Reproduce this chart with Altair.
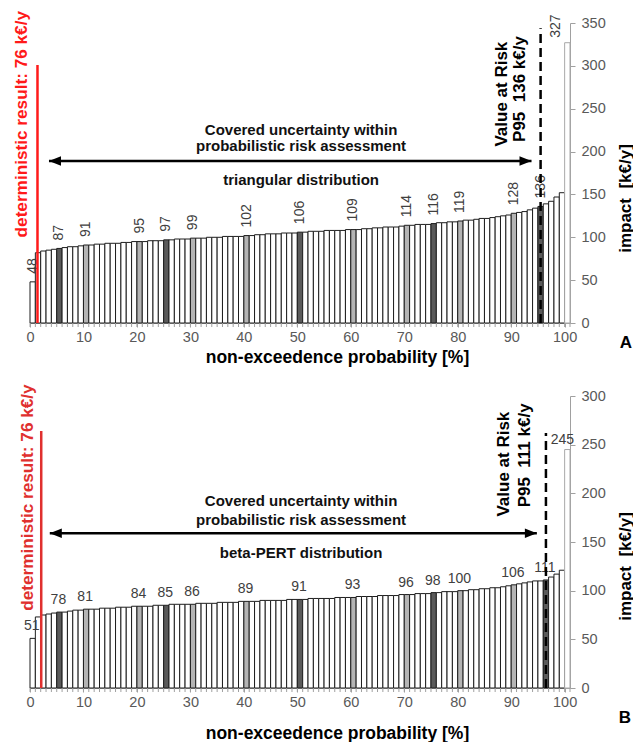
import altair as alt
import pandas as pd

FONT = "Liberation Sans"

# ---------------- data ----------------
impact_A = [48, 82, 84, 85, 86, 87, 88, 89, 89, 90,
            91, 91, 92, 92, 93, 93, 93, 94, 94, 95,
            95, 95, 96, 96, 96, 97, 97, 98, 98, 98,
            99, 99, 99, 100, 100, 100, 101, 101, 101, 101,
            102, 102, 103, 103, 104, 104, 104, 105, 105, 105,
            106, 106, 107, 107, 107, 108, 108, 108, 108, 109,
            109, 109, 110, 110, 111, 111, 112, 112, 112, 113,
            114, 114, 115, 115, 115, 116, 117, 117, 118, 118,
            119, 120, 120, 121, 122, 122, 123, 124, 125, 126,
            128, 129, 130, 132, 134, 136, 139, 142, 147, 152,
            327]
impact_B = [51, 73, 75, 76, 77, 78, 78, 79, 80, 80,
            81, 81, 81, 82, 82, 82, 83, 83, 83, 84,
            84, 84, 84, 85, 85, 85, 86, 86, 86, 86,
            86, 87, 87, 87, 87, 88, 88, 88, 88, 89,
            89, 89, 89, 90, 90, 90, 90, 90, 91, 91,
            91, 91, 92, 92, 92, 92, 92, 93, 93, 93,
            93, 94, 94, 94, 94, 95, 95, 95, 95, 96,
            96, 96, 97, 97, 97, 98, 98, 99, 99, 99,
            100, 100, 101, 101, 102, 102, 103, 103, 104, 105,
            106, 107, 108, 109, 110, 110, 111, 114, 117, 121,
            245]
assert len(impact_A) == 101 and len(impact_B) == 101

label_idx_A = [0, 5, 10, 20, 25, 30, 40, 50, 60, 70, 75, 80, 90, 95]
label_idx_B = [0, 5, 10, 20, 25, 30, 40, 50, 60, 70, 75, 80, 90, 96]
dark_pcts_A = [5, 25, 50, 75, 95]
dark_pcts_B = [5, 25, 50, 75, 96]
grey_pcts = [10, 20, 30, 40, 60, 70, 80, 90]
x_tick_labels = list(range(0, 101, 10))
x_minor_ticks = list(range(0, 102))

# annotations (data units)
det_A = dict(x=1.4, top=301, tx=-1.5, ty=364)
det_B = dict(x=2.1, top=264, tx=-0.3, ty=312)
var_A = dict(x=95.5, top=344, l1=(88.3, 267), l2=(91.6, 273), txt="P95\u00a0\u00a0136 k€/y")
var_B = dict(x=96.5, top=262, l1=(88.6, 230), l2=(92.6, 239), txt="P95\u00a0\u00a0111 k€/y")
arrow_A = dict(x1=3.55, x2=93.8, y=189)
arrow_B = dict(x1=3.7, x2=94.8, y=159)
notes_A = [("Covered uncertainty within", 50.7, 225), ("probabilistic risk assessment", 50.7, 206.5),
           ("triangular distribution", 50.7, 167)]
notes_B = [("Covered uncertainty within", 50.7, 192), ("probabilistic risk assessment", 50.7, 172.7),
           ("beta-PERT distribution", 50.7, 138.7)]

KINDS = ["plain", "grey", "dark", "max"]
FILLS = ["#ffffff", "#b4b4b4", "#5a5a5a", "#ffffff"]
STROKES = ["#1e1e1e", "#1e1e1e", "#1e1e1e", "#a8a8a8"]
AXIS_GREY = "#a0a0a0"


def bar_df(vals, dark):
    rows = []
    for i, v in enumerate(vals):
        if i == len(vals) - 1:
            k = "max"
        elif i in dark:
            k = "dark"
        elif i in grey_pcts:
            k = "grey"
        else:
            k = "plain"
        rows.append(dict(x=i, x2=i + 1, y=v, y0=0, kind=k))
    return pd.DataFrame(rows)


def panel(vals, dark, lab_idx, ymax, h, det, var, arrow, notes, letter, rotated,
          red, title_y, ytitle_y, letter_pos):
    xs = alt.Scale(domain=[0, 101], nice=False, zero=False)
    ys = alt.Scale(domain=[0, ymax], nice=False)

    def X(f="x"):
        return alt.X(f + ":Q", scale=xs)

    def Y(f="y"):
        return alt.Y(f + ":Q", scale=ys)

    xaxis = alt.Axis(values=x_tick_labels,
                     tickSize=4, tickColor=AXIS_GREY, domainColor=AXIS_GREY,
                     labelColor="#595959", labelFontSize=14.5, labelFont=FONT,
                     labelPadding=3, labelFlush=False, labelOverlap=False, grid=False,
                     title="non-exceedence probability [%]", titleFont=FONT,
                     titleFontSize=17.5, titleFontWeight="bold", titleColor="black",
                     titleY=title_y, titleX=307, titleBaseline="middle", titleAlign="center")
    yaxis = alt.Axis(orient="right", values=list(range(0, ymax + 1, 50)),
                     tickSize=5, tickColor=AXIS_GREY, domainColor=AXIS_GREY,
                     labelColor="#595959", labelFontSize=14.5, labelFont=FONT,
                     labelPadding=6, grid=False,
                     title="impact\u00a0\u00a0[k€/y]", titleAngle=270, titleX=55,
                     titleY=ytitle_y, titleBaseline="middle", titleAlign="center",
                     titleFont=FONT, titleFontSize=17, titleFontWeight="bold",
                     titleColor="black")

    df = bar_df(vals, dark)
    bars = alt.Chart(df).mark_bar(strokeWidth=1, opacity=1).encode(
        x=alt.X("x:Q", scale=xs, axis=xaxis),
        x2="x2:Q",
        y=alt.Y("y:Q", scale=ys, axis=yaxis),
        y2="y0:Q",
        fill=alt.Fill("kind:N", scale=alt.Scale(domain=KINDS, range=FILLS), legend=None),
        stroke=alt.Stroke("kind:N", scale=alt.Scale(domain=KINDS, range=STROKES), legend=None),
    )

    minor = alt.Chart(pd.DataFrame({"x": x_minor_ticks})).mark_rule(
        color=AXIS_GREY, strokeWidth=1).encode(
        x=X(), y=alt.value(h), y2=alt.value(h + 4))

    lab = pd.DataFrame({"x": [i + 0.5 for i in lab_idx], "y": [vals[i] for i in lab_idx],
                        "t": [str(vals[i]) for i in lab_idx]})
    mx = pd.DataFrame({"x": [len(vals) - 0.5], "y": [vals[-1]], "t": [str(vals[-1])]})
    if rotated:
        labels = alt.Chart(lab).mark_text(angle=270, align="left", baseline="middle", dx=8,
                                          font=FONT, fontSize=14, color="#404040").encode(
            x=X(), y=Y(), text="t:N")
        maxlab = alt.Chart(mx).mark_text(angle=270, align="left", baseline="middle", dx=5, dy=-11,
                                         font=FONT, fontSize=14, color="#404040").encode(
            x=X(), y=Y(), text="t:N")
    else:
        labels = alt.Chart(lab).mark_text(align="center", baseline="bottom", dy=-5, dx=-1,
                                          font=FONT, fontSize=14, color="#404040").encode(
            x=X(), y=Y(), text="t:N")
        maxlab = alt.Chart(mx).mark_text(align="center", baseline="bottom", dy=-3, dx=-5,
                                         font=FONT, fontSize=14, color="#404040").encode(
            x=X(), y=Y(), text="t:N")

    red_df = pd.DataFrame({"x": [det["x"]], "y": [0], "y2": [det["top"]]})
    red_rule = alt.Chart(red_df).mark_rule(color=red, strokeWidth=2.5).encode(
        x=X(), y=Y(), y2="y2:Q")
    red_txt = alt.Chart(pd.DataFrame({"x": [det["tx"]], "y": [det["ty"]],
                                      "t": ["deterministic result: 76 k€/y"]})).mark_text(
        angle=270, align="right", baseline="middle", font=FONT, fontSize=17.2,
        fontWeight="bold", color=red).encode(x=X(), y=Y(), text="t:N")

    var_df = pd.DataFrame({"x": [var["x"]], "y": [0], "y2": [var["top"]]})
    var_rule = alt.Chart(var_df).mark_rule(color="black", strokeWidth=2.5, strokeDash=[9, 5]).encode(
        x=X(), y=Y(), y2="y2:Q")
    var_txt = alt.Chart(pd.DataFrame({"x": [var["l1"][0], var["l2"][0]],
                                      "y": [var["l1"][1], var["l2"][1]],
                                      "t": ["Value at Risk", var["txt"]]})).mark_text(
        angle=270, align="center", baseline="middle", font=FONT, fontSize=17,
        fontWeight="bold", color="black").encode(x=X(), y=Y(), text="t:N")

    arr_df = pd.DataFrame({"x": [arrow["x1"]], "x2": [arrow["x2"]], "y": [arrow["y"]]})
    arr_line = alt.Chart(arr_df).mark_rule(color="black", strokeWidth=2.5).encode(
        x=X(), x2="x2:Q", y=Y())
    head_l = alt.Chart(pd.DataFrame({"x": [arrow["x1"]], "y": [arrow["y"]]})).mark_point(
        shape="M0,0L2,-0.8L2,0.8Z", filled=True, size=144, color="black", opacity=1).encode(
        x=X(), y=Y())
    head_r = alt.Chart(pd.DataFrame({"x": [arrow["x2"]], "y": [arrow["y"]]})).mark_point(
        shape="M0,0L-2,-0.8L-2,0.8Z", filled=True, size=144, color="black", opacity=1).encode(
        x=X(), y=Y())

    notes_df = pd.DataFrame({"t": [n[0] for n in notes], "x": [n[1] for n in notes],
                             "y": [n[2] for n in notes]})
    note_txt = alt.Chart(notes_df).mark_text(align="center", baseline="middle", font=FONT,
                                             fontSize=15, fontWeight="bold", color="#111111").encode(
        x=X(), y=Y(), text="t:N")

    letter_txt = alt.Chart(pd.DataFrame({"t": [letter]})).mark_text(
        align="center", baseline="middle", font=FONT, fontSize=17, fontWeight="bold",
        color="black").encode(x=alt.value(letter_pos[0]), y=alt.value(letter_pos[1]), text="t:N")

    return alt.layer(bars, minor, labels, maxlab, red_rule, red_txt, var_rule, var_txt,
                     arr_line, head_l, head_r, note_txt, letter_txt).properties(width=540, height=h)


pA = panel(impact_A, dark_pcts_A, label_idx_A, 350, 300, det_A, var_A, arrow_A, notes_A, "A",
           True, "#ff1a1a", 34, 175, (596, 320))
pB = panel(impact_B, dark_pcts_B, label_idx_B, 300, 292, det_B, var_B, arrow_B, notes_B, "B",
           False, "#e0302e", 45, 170, (595, 322))

chart = alt.vconcat(pA, pB, spacing=73, bounds="flush").properties(
    padding={"left": 4, "top": 2, "right": 0, "bottom": 0}
).configure_view(stroke=None)

chart.save("out.html", embed_options={"renderer": "svg", "actions": False})
